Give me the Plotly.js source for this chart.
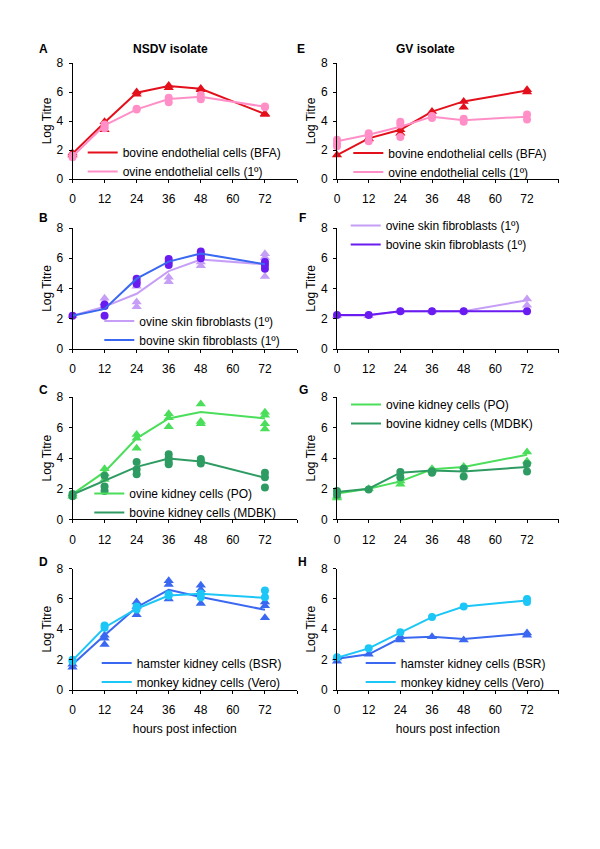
<!DOCTYPE html>
<html>
<head>
<meta charset="utf-8">
<script src="https://cdn.plot.ly/plotly-3.0.1.min.js"></script>
<style>html,body{margin:0;padding:0;background:#fff;}#chart{width:600px;height:849px;}</style>
</head>
<body>
<div id="chart"></div>
<script>
// ---------- data ----------
const hours = [0, 12, 24, 36, 48, 72];
const xTickVals = [0, 12, 24, 36, 48, 60, 72, 84];
const xTickText = ['0', '12', '24', '36', '48', '60', '72', ''];
const yTickVals = [0, 2, 4, 6, 8];

// Panel A (NSDV) endothelial
const A_bfaMean = [1.75, 3.9, 5.95, 6.42, 6.22, 4.48];
const A_bfaReps = [[1.8, 1.65], [3.95, 3.4], [5.85, 6.0], [6.45, 6.3], [6.25, 6.15], [4.5, 4.45]];
const A_ovEndoMean = [1.55, 3.7, 4.8, 5.52, 5.68, 4.98];
const A_ovEndoReps = [[1.6, 1.5], [3.75, 3.6, 3.5], [4.8, 4.85], [5.6, 5.3], [5.8, 5.5], [5.0, 4.95]];

// Panel E (GV) endothelial
const E_bfaMean = [1.65, 2.8, 3.4, 4.65, 5.35, 6.1];
const E_bfaReps = [[1.65], [2.8, 2.75], [3.4, 3.15], [4.65], [5.35, 4.95], [6.15, 6.0]];
const E_ovEndoMean = [2.6, 3.05, 3.6, 4.3, 4.05, 4.3];
const E_ovEndoReps = [[2.7, 2.45, 2.25], [3.15, 3.0, 2.6], [3.95, 3.75, 2.9], [4.35, 4.2], [4.15, 3.95], [4.45, 4.1]];

// Panel B (NSDV) skin fibroblasts
const B_ovSkinMean = [2.2, 2.8, 3.65, 5.15, 5.92, 5.6];
const B_ovSkinReps = [[2.2], [3.35, 3.05], [4.15, 3.1, 2.8], [4.75, 4.45], [5.75, 5.5], [6.3, 6.05, 4.8]];
const B_bovSkinMean = [2.2, 2.65, 4.65, 5.78, 6.32, 5.6];
const B_bovSkinReps = [[2.2], [2.95, 2.85, 2.2], [4.65, 4.45, 4.3], [5.95, 5.75, 5.55], [6.45, 6.3, 6.15, 6.0], [5.75, 5.55, 5.3]];

// Panel F (GV) skin fibroblasts
const F_ovSkinMean = [2.22, 2.22, 2.5, 2.5, 2.5, 3.22];
const F_ovSkinReps = [[2.2], [2.2], [2.5], [2.5], [2.5], [3.3, 2.9]];
const F_bovSkinMean = [2.25, 2.25, 2.5, 2.5, 2.5, 2.5];
const F_bovSkinReps = [[2.25], [2.25], [2.5], [2.5], [2.5], [2.5]];

// Panel C (NSDV) kidney
const C_ovKidMean = [1.65, 3.1, 5.3, 6.6, 7.02, 6.6];
const C_ovKidReps = [[1.65, 1.5], [3.3, 3.0, 2.6], [5.55, 5.3, 4.65], [6.9, 6.65, 6.05], [7.55, 6.4, 6.25], [7.0, 6.8, 6.25, 5.9]];
const C_mdbkMean = [1.62, 2.5, 3.43, 3.97, 3.78, 2.72];
const C_mdbkReps = [[1.65, 1.5], [2.85, 2.15, 1.85], [3.75, 3.25, 2.95], [4.25, 4.0, 3.75, 3.6], [3.95, 3.8, 3.65], [3.05, 2.75, 2.08]];

// Panel G (GV) kidney
const G_ovKidMean = [1.68, 2.0, 2.48, 3.27, 3.42, 4.22];
const G_ovKidReps = [[1.5, 1.4], [2.0], [2.5, 2.3], [3.3, 3.2], [3.45], [4.4, 3.8]];
const G_mdbkMean = [1.78, 2.0, 3.05, 3.2, 3.13, 3.42];
const G_mdbkReps = [[1.85, 1.6], [1.95], [3.1, 2.75], [3.15, 3.05], [3.3, 2.8], [3.62, 3.12]];

// Panel D (NSDV) hamster / monkey kidney
const D_bsrMean = [1.68, 3.6, 5.45, 6.6, 6.12, 5.28];
const D_bsrReps = [[1.7, 1.5], [3.6, 3.4, 3.0], [5.8, 5.5, 4.95], [7.2, 6.95, 6.0], [6.9, 6.6, 5.7], [5.8, 5.55, 4.75]];
const D_veroMean = [1.95, 4.12, 5.35, 6.22, 6.33, 6.07];
const D_veroReps = [[2.0, 1.9], [4.25, 4.1], [5.5, 5.3], [6.3, 6.2], [6.35, 6.1], [6.55, 6.1]];

// Panel H (GV) hamster / monkey kidney
const H_bsrMean = [2.05, 2.35, 3.42, 3.5, 3.35, 3.72];
const H_bsrReps = [[2.1, 1.9], [2.35], [3.5, 3.3], [3.5], [3.3], [3.75, 3.6]];
const H_veroMean = [2.12, 2.74, 3.78, 4.8, 5.5, 5.9];
const H_veroReps = [[2.15], [2.75], [3.8], [4.8], [5.5], [6.0, 5.8]];

// series names
const nBFA = 'bovine endothelial cells (BFA)';
const nOvEndo = 'ovine endothelial cells (1º)';
const nOvSkin = 'ovine skin fibroblasts (1º)';
const nBovSkin = 'bovine skin fibroblasts (1º)';
const nPO = 'ovine kidney cells (PO)';
const nMDBK = 'bovine kidney cells (MDBK)';
const nBSR = 'hamster kidney cells (BSR)';
const nVero = 'monkey kidney cells (Vero)';

// ---------- styles ----------
const FONT = 'Liberation Sans, Arial, Helvetica, sans-serif';
const cRed = '#e3101c', cPink = '#ff8fc6', cLav = '#c69ef6', cPurple = '#6a1cf0',
      cBlue = '#3a68f0', cGreen = '#4ade5a', cDkGreen = '#2e9c62', cCyan = '#1cc6f6';

const traces = [];
function flat(reps) {
  const x = [], y = [];
  reps.forEach((r, i) => r.forEach(v => { x.push(hours[i]); y.push(v); }));
  return {x, y};
}
function addSeries(n, name, mean, reps, lineColor, markColor, symbol) {
  const xa = 'x' + (n === 1 ? '' : n), ya = 'y' + (n === 1 ? '' : n);
  const f = flat(reps);
  traces.push({x: f.x, y: f.y, xaxis: xa, yaxis: ya, type: 'scatter', mode: 'markers',
    marker: {symbol: symbol, size: symbol === 'circle' ? 8 : 9, color: markColor},
    showlegend: false, cliponaxis: false, hoverinfo: 'skip'});
  traces.push({x: hours, y: mean, xaxis: xa, yaxis: ya, type: 'scatter', mode: 'lines', name: name,
    line: {color: lineColor, width: 2}, legend: 'legend' + (n === 1 ? '' : n), cliponaxis: false});
}
// A
addSeries(1, nBFA, A_bfaMean, A_bfaReps, cRed, cRed, 'triangle-up');
addSeries(1, nOvEndo, A_ovEndoMean, A_ovEndoReps, cPink, cPink, 'circle');
// B
addSeries(2, nOvSkin, B_ovSkinMean, B_ovSkinReps, cLav, cLav, 'triangle-up');
addSeries(2, nBovSkin, B_bovSkinMean, B_bovSkinReps, cBlue, cPurple, 'circle');
// C
addSeries(3, nPO, C_ovKidMean, C_ovKidReps, cGreen, cGreen, 'triangle-up');
addSeries(3, nMDBK, C_mdbkMean, C_mdbkReps, cDkGreen, cDkGreen, 'circle');
// D
addSeries(4, nBSR, D_bsrMean, D_bsrReps, cBlue, cBlue, 'triangle-up');
addSeries(4, nVero, D_veroMean, D_veroReps, cCyan, cCyan, 'circle');
// E
addSeries(5, nBFA, E_bfaMean, E_bfaReps, cRed, cRed, 'triangle-up');
addSeries(5, nOvEndo, E_ovEndoMean, E_ovEndoReps, cPink, cPink, 'circle');
// F
addSeries(6, nOvSkin, F_ovSkinMean, F_ovSkinReps, cLav, cLav, 'triangle-up');
addSeries(6, nBovSkin, F_bovSkinMean, F_bovSkinReps, cPurple, cPurple, 'circle');
// G
addSeries(7, nPO, G_ovKidMean, G_ovKidReps, cGreen, cGreen, 'triangle-up');
addSeries(7, nMDBK, G_mdbkMean, G_mdbkReps, cDkGreen, cDkGreen, 'circle');
// H
addSeries(8, nBSR, H_bsrMean, H_bsrReps, cBlue, cBlue, 'triangle-up');
addSeries(8, nVero, H_veroMean, H_veroReps, cCyan, cCyan, 'circle');

// ---------- layout ----------
const W = 600, H = 849;
const px = v => v / W, py = v => 1 - v / H;
const colDom = [[72.5 / W, 297 / W], [337 / W, 558.7 / W]];
const rowDom = [[py(179), py(63)], [py(349), py(228)], [py(519.3), py(397)], [py(690), py(568.5)]];

const layout = {
  width: W, height: H,
  margin: {l: 0, r: 0, t: 0, b: 0},
  paper_bgcolor: '#fff', plot_bgcolor: 'rgba(0,0,0,0)',
  font: {family: FONT, size: 12, color: '#000'},
  showlegend: true,
  annotations: []
};
function xAxisDef(dom, anchor, withTitle) {
  const a = {domain: dom, anchor: anchor, range: [0, 84], tickmode: 'array', tickvals: xTickVals, ticktext: xTickText,
    showline: true, linecolor: '#000', linewidth: 1, ticks: 'outside', ticklen: 3, tickcolor: '#000',
    showgrid: false, zeroline: false, tickfont: {family: FONT, size: 12, color: '#000'},
    ticklabelstandoff: 6, fixedrange: true};
  if (withTitle) a.title = {text: 'hours post infection', font: {family: FONT, size: 12, color: '#000'}, standoff: 8};
  return a;
}
function yAxisDef(dom, anchor) {
  return {domain: dom, anchor: anchor, range: [0, 8], tickmode: 'array', tickvals: yTickVals,
    showline: true, linecolor: '#000', linewidth: 1, ticks: 'outside', ticklen: 3, tickcolor: '#000',
    showgrid: false, zeroline: false, tickfont: {family: FONT, size: 12, color: '#000'},
    ticklabelstandoff: 3, fixedrange: true,
    title: {text: 'Log Titre', font: {family: FONT, size: 12, color: '#000'}, standoff: 2}};
}
for (let n = 1; n <= 8; n++) {
  const col = n <= 4 ? 0 : 1, row = (n - 1) % 4;
  const s = n === 1 ? '' : String(n);
  layout['xaxis' + s] = xAxisDef(colDom[col], 'y' + s, row === 3);
  layout['yaxis' + s] = yAxisDef(rowDom[row], 'x' + s);
}
// legends: [panel, left px, top px]
const legendPos = [[1, 82.7, 138], [2, 99.3, 306.5], [3, 89.3, 479], [4, 96.7, 648.5],
                   [5, 348.3, 138.5], [6, 345.7, 211], [7, 346, 390], [8, 360.7, 648.5]];
legendPos.forEach(([n, lx, ty]) => {
  layout['legend' + (n === 1 ? '' : n)] = {x: px(lx), y: py(ty), xanchor: 'left', yanchor: 'top',
    bgcolor: 'rgba(0,0,0,0)', borderwidth: 0, traceorder: 'normal',
    font: {family: FONT, size: 12, color: '#000'}, itemclick: false, itemdoubleclick: false};
});
// panel letters and column titles
const labels = [['A', 43, 49], ['B', 43, 218], ['C', 43, 390.5], ['D', 43, 562],
                ['E', 301, 49], ['F', 302, 218], ['G', 303, 390.5], ['H', 302, 562],
                ['NSDV isolate', 170, 49], ['GV isolate', 425, 49]];
labels.forEach(([t, x, y]) => layout.annotations.push({text: '<b>' + t + '</b>', xref: 'paper', yref: 'paper',
  x: px(x), y: py(y), xanchor: 'center', yanchor: 'middle', showarrow: false,
  font: {family: FONT, size: 12, color: '#000'}}));

Plotly.newPlot('chart', traces, layout, {displayModeBar: false, staticPlot: true});
</script>
</body>
</html>
